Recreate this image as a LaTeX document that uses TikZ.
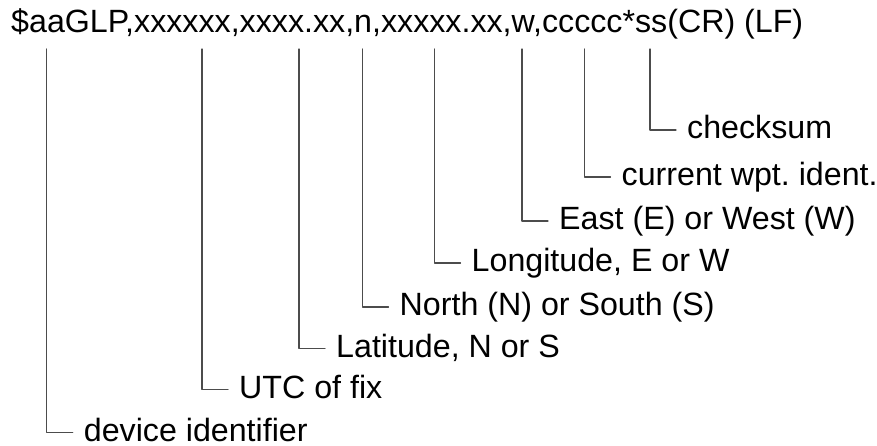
\documentclass[tikz,border=0pt]{standalone}
\usepackage{fontspec}
\setmainfont{Liberation Sans}
\frenchspacing
\begin{document}
\begin{tikzpicture}[x=1pt, y=-1pt, line join=round, line cap=round,
	font=\fontsize{32.2pt}{37pt}\selectfont,
	lead/.style={line width=1.2pt, color=black!70},
	lbl/.style={anchor=west, inner xsep=11pt, inner ysep=0pt, text height=19pt, text depth=2pt}]
	\def\ytop{49}
	\useasboundingbox (0,0) rectangle (877,445);
	
	\node[anchor=base west, inner sep=0pt] (hdr) at (11,32.5) {\$aaGLP,xxxxxx,xxxx.xx,n,xxxxx.xx,w,ccccc*ss(CR) (LF)};
	
	\foreach \vx/\ly/\nm/\txt in {46.7/432.5/dev/device identifier, 202/389.5/utc/UTC of fix,
		299/348.5/lat/{Latitude, N or S}, 362.5/307/ns/North (N) or South (S),
		434.5/263/lon/{Longitude, E or W}, 522/221/ew/East (E) or West (W),
		584.5/177/wpt/current wpt. ident., 650/130/chk/checksum}
	{
		\coordinate (t\nm) at (\vx,\ytop);
		\node[lbl] (l\nm) at (\vx+26,\ly) {\txt};
		\draw[lead] (t\nm) |- (l\nm.west);
	}
\end{tikzpicture}
\end{document}
